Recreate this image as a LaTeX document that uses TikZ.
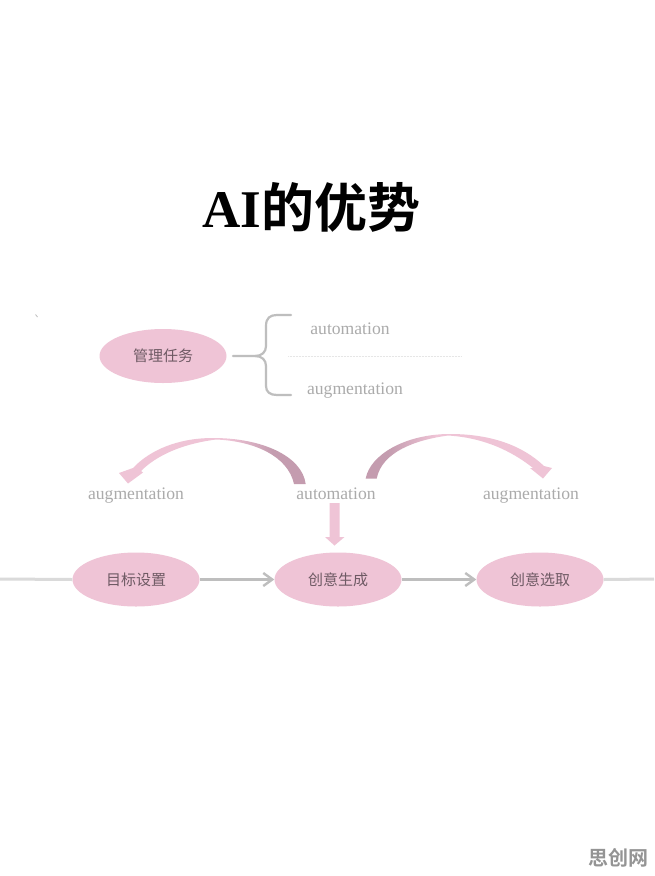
\documentclass[tikz,border=0pt]{standalone}
\usepackage{fontspec}
\setmainfont{Liberation Serif}
\newfontfamily\cjk{Noto Sans CJK SC}
\newfontfamily\cjkb{Noto Sans CJK SC Bold}
\usetikzlibrary{arrows.meta,shapes.geometric}
\definecolor{ovalpink}{HTML}{EFC4D6}
\definecolor{arcdark}{HTML}{C49CAF}
\definecolor{labelgrey}{HTML}{ABABAB}
\definecolor{inkc}{HTML}{6E5A64}
\definecolor{linegrey}{HTML}{BEBEBE}
\definecolor{lightline}{HTML}{DADADA}
\definecolor{dotline}{HTML}{E6E6E6}
\pgfdeclarehorizontalshading{arcleftshade}{100bp}{color(0bp)=(ovalpink); color(54bp)=(ovalpink); color(66bp)=(arcdark); color(100bp)=(arcdark)}
\pgfdeclarehorizontalshading{arcrightshade}{100bp}{color(0bp)=(arcdark); color(31bp)=(arcdark); color(44bp)=(ovalpink); color(100bp)=(ovalpink)}
\tikzset{
  x=1pt,y=-1pt,
  oval/.style={ellipse,fill=ovalpink,minimum width=127pt,minimum height=54pt,inner sep=0pt,text=inkc,font=\cjk\fontsize{15}{15}\selectfont},
  lbl/.style={text=labelgrey,inner sep=0pt,anchor=base,font=\fontsize{17.6}{17.6}\selectfont},
  flow/.style={draw=linegrey,line width=3pt,-{Straight Barb[length=9pt,width=13pt,line width=2.4pt]}},
  tail/.style={draw=lightline,line width=3pt},
  bracket/.style={draw=linegrey,line width=2.2pt,line cap=round}
}
\begin{document}
\begin{tikzpicture}
\useasboundingbox (0,0) rectangle (654,876);
\fill[white] (0,0) rectangle (654,876);
% title
\node (title) at (311.5,207) [inner sep=0pt] {\fontsize{53}{53}\selectfont\textbf{AI}{\cjkb 的优势}};
% stray mark
\draw[linegrey,line width=0.8pt] (35.5,314.5) -- (37.5,317);
% top group
\node[oval] (mgmt) at (163,356) {管理任务};
\node[lbl] (auto1) at (350,334) {automation};
\node[lbl] (aug1) at (355,394) {augmentation};
\coordinate (brL) at (233,356);
\coordinate (brT) at (291,315);
\coordinate (brB) at (291,395);
\draw[bracket] (brL) -- (255,356) .. controls (262,356) and (266,352) .. (266,346) -- (266,326) .. controls (266,318) and (270,315) .. (277,315) -- (brT);
\draw[bracket] (255,356) .. controls (262,356) and (266,360) .. (266,366) -- (266,386) .. controls (266,392) and (270,395) .. (277,395) -- (brB);
\coordinate (dotA) at (288,356);
\coordinate (dotB) at (461,356);
\draw[dotline,line width=0.5pt,densely dotted] (dotA) -- (dotB);
% middle labels
\node[lbl] (augL) at (136,499) {augmentation};
\node[lbl] (autoM) at (336,499) {automation};
\node[lbl] (augR) at (531,499) {augmentation};
% left arc arrow
\shade[shading=arcleftshade] (305.7,484) .. controls (302,456) and (262,438) .. (213,438)
  .. controls (178,438) and (150,450) .. (133,468) -- (119,473) -- (128,483.5) -- (143,472.5) -- (141,471)
  .. controls (152,460) and (174,445) .. (216,439.5)
  .. controls (254,441) and (288,456) .. (294,484) -- cycle;
% right arc arrow
\shade[shading=arcrightshade] (365.7,478.5) .. controls (370,455) and (405,434) .. (450,434)
  .. controls (490,434) and (522,445) .. (544,466) -- (552,468) -- (543,478.5) -- (530,468) -- (533,468)
  .. controls (518,456) and (490,438) .. (448,435.5)
  .. controls (415,440) and (382,452) .. (376.7,478.5) -- cycle;
% down arrow
\fill[ovalpink] (329.5,503) -- (339.5,503) -- (339.5,537) -- (344.5,537) -- (334.5,545.5) -- (325,537) -- (329.5,537) -- cycle;
% bottom row
\node[oval] (goal) at (136,579.5) {目标设置};
\node[oval] (gen) at (338,579.5) {创意生成};
\node[oval] (sel) at (540,579.5) {创意选取};
\coordinate (leftEnd) at (0,579);
\coordinate (rightEnd) at (654,579);
\draw[tail] (leftEnd) -- (goal.west);
\draw[tail] (sel.east) -- (rightEnd);
\draw[flow] (goal.east) -- (gen.west);
\draw[flow] (gen.east) -- (sel.west);
% watermark
\node (wm) at (618,858) [inner sep=0pt,text=black!42] {\cjkb\fontsize{20}{20}\selectfont 思创网};
\end{tikzpicture}
\end{document}
